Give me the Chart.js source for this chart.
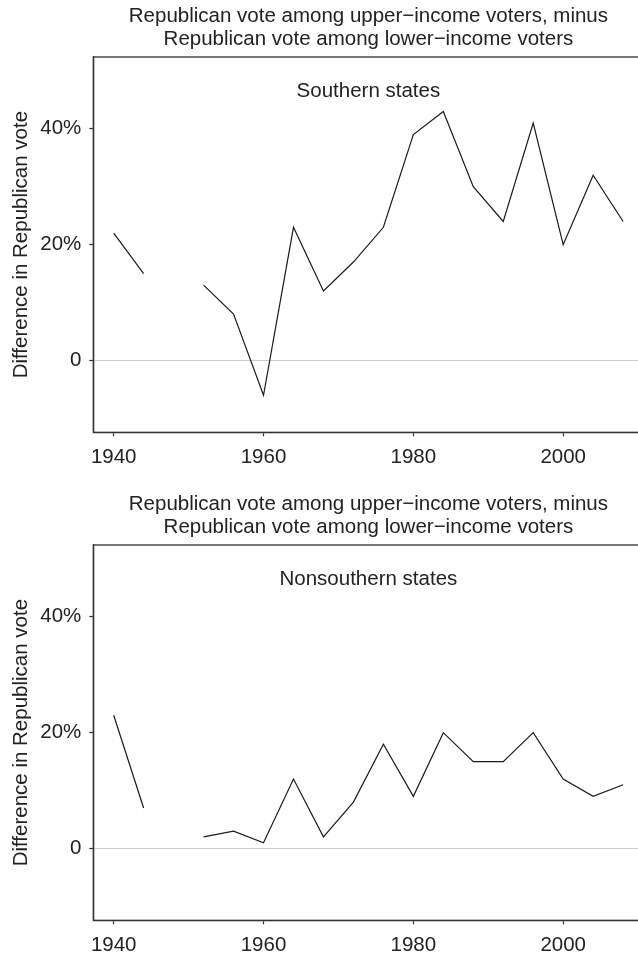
<!DOCTYPE html>
<html>
<head>
<meta charset="utf-8">
<script src="https://cdn.jsdelivr.net/npm/chart.js@4/dist/chart.umd.min.js"></script>
<style>
  html, body { margin: 0; padding: 0; background: #ffffff; overflow: hidden; width: 638px; height: 954px; }
  .panel { position: absolute; left: 0; width: 650px; height: 488px; }
  #p1 { top: 0; }
  #p2 { top: 488px; }
</style>
</head>
<body>
<div class="panel" id="p1"><canvas id="c1" width="650" height="488"></canvas></div>
<div class="panel" id="p2"><canvas id="c2" width="650" height="488"></canvas></div>
<script>
// ---- data ----
const years = [1940, 1944, 1948, 1952, 1956, 1960, 1964, 1968, 1972, 1976, 1980, 1984, 1988, 1992, 1996, 2000, 2004, 2008];
const southern = [22, 15, null, 13, 8, -6, 23, 12, 17, 23, 39, 43, 30, 24, 41, 20, 32, 24];
const nonsouthern = [23, 7, null, 2, 3, 1, 12, 2, 8, 18, 9, 20, 15, 15, 20, 12, 9, 11];
const xTicks = [1940, 1960, 1980, 2000];
const yTicks = [0, 20, 40];
const titleLines = ["Republican vote among upper\u2212income voters, minus", "Republican vote among lower\u2212income voters"];
const yTitle = "Difference in Republican vote";
const panelLabels = ["Southern states", "Nonsouthern states"];

const FONT = "'Liberation Sans', Arial, Helvetica, sans-serif";
const TEXT = '#222222';
const AXIS = '#333333';

const frame = {
  id: 'frame',
  afterDraw(chart, args, opts) {
    const {ctx, chartArea: a} = chart;
    ctx.save();
    ctx.strokeStyle = AXIS;
    ctx.lineWidth = 1.3;
    ctx.strokeRect(a.left, a.top, a.right - a.left, a.bottom - a.top);
    ctx.fillStyle = TEXT;
    ctx.font = "20.5px " + FONT;
    ctx.textAlign = 'center';
    ctx.textBaseline = 'middle';
    ctx.fillText(opts.label, (a.left + a.right) / 2, a.top + 34);
    ctx.restore();
  }
};

function makeChart(id, values, label) {
  const pts = years.map((x, i) => ({x: x, y: values[i]}));
  return new Chart(document.getElementById(id), {
    type: 'line',
    data: {
      datasets: [{
        data: pts,
        borderColor: '#1a1a1a',
        borderWidth: 1.2,
        pointRadius: 0,
        tension: 0,
        spanGaps: false,
        fill: false
      }]
    },
    options: {
      responsive: false,
      animation: false,
      devicePixelRatio: 1,
      layout: { padding: { left: 0, right: 6.5, top: 0, bottom: 0 } },
      plugins: {
        legend: { display: false },
        tooltip: { enabled: false },
        title: {
          display: true,
          text: titleLines,
          fullSize: false,
          color: TEXT,
          font: { family: FONT, size: 20.5, weight: 'normal', lineHeight: 23 / 20.5 },
          padding: { top: 4.5, bottom: 6.5 }
        },
        frame: { label: label }
      },
      scales: {
        x: {
          type: 'linear',
          min: 1937.28,
          max: 2010.72,
          afterBuildTicks: s => { s.ticks = xTicks.map(v => ({value: v})); },
          afterFit: s => { s.height = 488 - 432.3; },
          ticks: {
            color: TEXT,
            font: { family: FONT, size: 20.5 },
            padding: 9,
            maxRotation: 0,
            autoSkip: false,
            callback: v => String(v)
          },
          grid: {
            drawOnChartArea: false,
            drawTicks: true,
            tickLength: 4,
            tickColor: AXIS,
            tickWidth: 1.2
          },
          border: { display: true, color: AXIS, width: 1.3 }
        },
        y: {
          type: 'linear',
          min: -12.4,
          max: 52.4,
          afterBuildTicks: s => { s.ticks = yTicks.map(v => ({value: v})); },
          afterFit: s => { s.width = 93.3; },
          ticks: {
            color: TEXT,
            font: { family: FONT, size: 20.5 },
            padding: 8,
            autoSkip: false,
            callback: v => (v === 0 ? '0' : v + '%')
          },
          grid: {
            drawOnChartArea: true,
            drawTicks: true,
            tickLength: 4,
            color: c => (c.tick && c.tick.value === 0 ? '#cccccc' : 'rgba(0,0,0,0)'),
            lineWidth: 1,
            tickColor: AXIS,
            tickWidth: 1.2
          },
          border: { display: true, color: AXIS, width: 1.3 },
          title: {
            display: true,
            text: yTitle,
            color: TEXT,
            font: { family: FONT, size: 20.5 },
            padding: { top: 9, bottom: 0 }
          }
        }
      }
    },
    plugins: [frame]
  });
}

makeChart('c1', southern, panelLabels[0]);
makeChart('c2', nonsouthern, panelLabels[1]);
</script>
</body>
</html>
